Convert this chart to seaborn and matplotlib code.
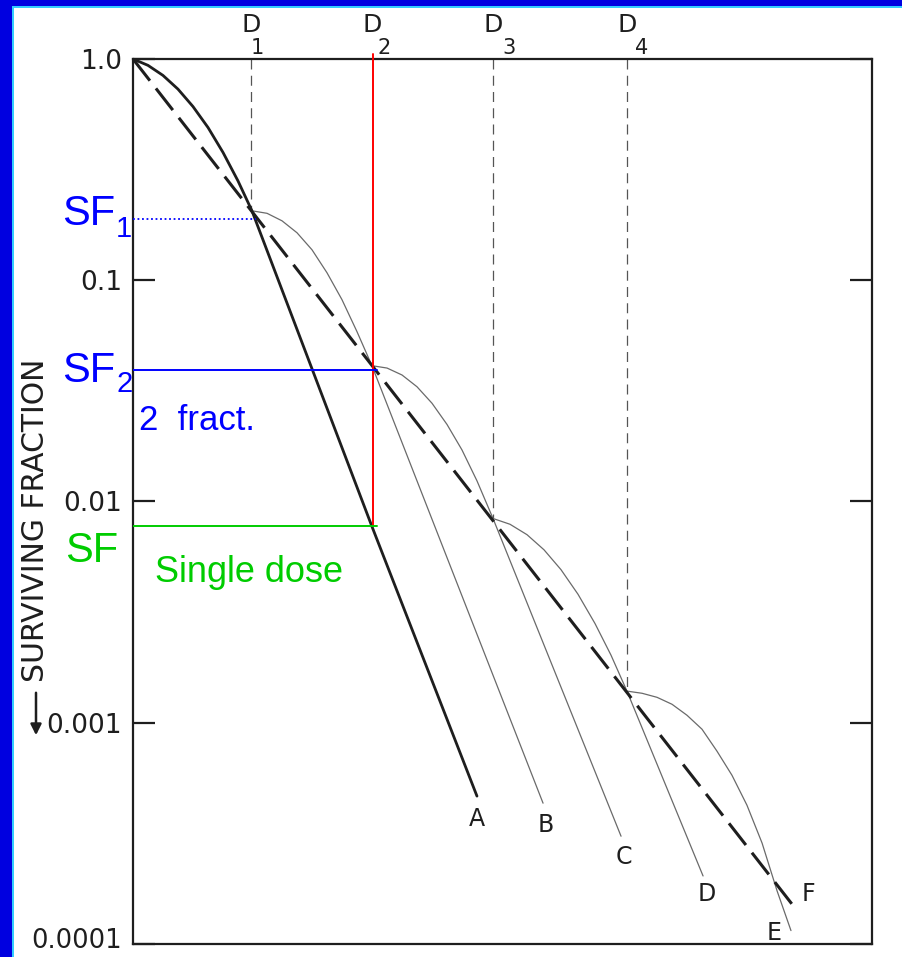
import matplotlib
matplotlib.use("Agg")
import matplotlib.pyplot as plt
from matplotlib.patches import Rectangle, FancyArrowPatch
from matplotlib.ticker import NullLocator
from matplotlib.transforms import blended_transform_factory
import seaborn as sns

# ---------------- data ----------------
fraction_doses = [1.00, 2.03, 3.05, 4.19]
fraction_labels = ["1", "2", "3", "4"]
intersection_sf = [0.206, 0.0411, 0.00838, 0.00139]

ytick_values = [1.0, 0.1, 0.01, 0.001, 0.0001]
ytick_labels = ["1.0", "0.1", "0.01", "0.001", "0.0001"]

single_dose_x = [0.0, 0.127, 0.254, 0.381, 0.508, 0.636, 0.763, 0.890, 1.008, 2.025, 2.915]
single_dose_sf = [1.0, 0.936, 0.843, 0.731, 0.610, 0.490, 0.378, 0.281, 0.206, 0.00771, 0.000466]

frac_b_x = [1.008, 1.136, 1.263, 1.390, 1.517, 1.644, 1.771, 1.898, 2.025, 3.475]
frac_b_sf = [0.206, 0.2007, 0.1856, 0.1639, 0.1373, 0.1081, 0.0817, 0.0586, 0.0411, 0.000433]

frac_c_x = [2.025, 2.153, 2.280, 2.407, 2.534, 2.661, 2.788, 2.915, 3.051, 4.136]
frac_c_sf = [0.0411, 0.0401, 0.0373, 0.0330, 0.0278, 0.0223, 0.0171, 0.0124, 0.00838, 0.000307]

frac_d_x = [3.051, 3.195, 3.339, 3.483, 3.627, 3.771, 3.915, 4.051, 4.186, 4.831]
frac_d_sf = [0.00838, 0.00789, 0.00708, 0.00605, 0.00492, 0.00381, 0.00281, 0.00202, 0.00139, 0.000203]

frac_e_x = [4.186, 4.314, 4.441, 4.568, 4.695, 4.822, 4.949, 5.076, 5.203, 5.331, 5.458, 5.576]
frac_e_sf = [0.00139, 0.001359, 0.001303, 0.001212, 0.001081, 0.000935, 0.000744,
             0.000579, 0.000424, 0.000286, 0.000174, 0.000115]

multi_frac_x = [0.0, 5.63]
multi_frac_sf = [1.0, 0.000141]

curve_names = ["A", "B", "C", "D", "E", "F"]

sf1_level = 0.19
sf2_level = 0.0394
single_sf_level = 0.00771

# ---------------- figure ----------------
sns.set_theme(style="white")
plt.rcParams["font.family"] = ["DejaVu Sans"]

W, H = 902, 957
fig = plt.figure(figsize=(W / 100, H / 100), dpi=100)
fig.patch.set_facecolor("white")

ax_l, ax_r, ax_t, ax_b = 133, 872, 59, 944
ax = fig.add_axes([ax_l / W, 1 - ax_b / H, (ax_r - ax_l) / W, (ax_b - ax_t) / H])
ax.set_facecolor("white")
ax.set_yscale("log")
ax.set_ylim(1e-4, 1.0)
ax.set_xlim(0, (ax_r - ax_l) / 118)

ink = "#1e1e1e"
thin = "#6a6a6a"

# single dose curve (A)
sns.lineplot(x=single_dose_x, y=single_dose_sf, ax=ax, color=ink, linewidth=2.0,
             sort=False, estimator=None)
# fractionated curves (B-E)
for xs, ys in [(frac_b_x, frac_b_sf), (frac_c_x, frac_c_sf),
               (frac_d_x, frac_d_sf), (frac_e_x, frac_e_sf)]:
    sns.lineplot(x=xs, y=ys, ax=ax, color=thin, linewidth=0.9, sort=False, estimator=None)
# multifraction line (F)
sns.lineplot(x=multi_frac_x, y=multi_frac_sf, ax=ax, color=ink, linewidth=2.2,
             linestyle=(0, (9, 3.2)), sort=False, estimator=None)

# vertical dashed lines at D1, D3, D4 and red line at D2
for i, (d, s) in enumerate(zip(fraction_doses, intersection_sf)):
    if i == 1:
        continue
    ax.plot([d, d], [1.0, s], color="#555555", lw=0.9, linestyle=(0, (8, 5)), zorder=1)
ax.plot([fraction_doses[1], fraction_doses[1]], [1.05, single_sf_level],
        color="#ff0000", lw=1.4, clip_on=False, zorder=4)

# coloured horizontal reference lines
ax.plot([0, fraction_doses[0] + 0.04], [sf1_level, sf1_level], color="#0000ff",
        lw=1.3, linestyle=(0, (1, 1.5)), zorder=4)
ax.plot([0, fraction_doses[1] + 0.04], [sf2_level, sf2_level], color="#0000ff",
        lw=1.4, zorder=4)
ax.plot([0, fraction_doses[1] + 0.04], [single_sf_level, single_sf_level],
        color="#00cc00", lw=1.4, zorder=4)

# curve end labels
ends = [(single_dose_x[-1], single_dose_sf[-1]), (frac_b_x[-1], frac_b_sf[-1]),
        (frac_c_x[-1], frac_c_sf[-1]), (frac_d_x[-1], frac_d_sf[-1]),
        (frac_e_x[-1], frac_e_sf[-1]), (multi_frac_x[-1], multi_frac_sf[-1])]
offsets = [(0, -16.5), (2, -16), (2, -15), (3, -13), (-12, -1.5), (8, 12)]
for name, (ex, ey), off in zip(curve_names, ends, offsets):
    ax.annotate(name, xy=(ex, ey), xytext=off, textcoords="offset points",
                ha="center", va="center", fontsize=17, color=ink)

# D labels above the axes
trans = blended_transform_factory(ax.transData, fig.transFigure)
digit_dx = [0.05, 0.10, 0.14, 0.12]
for d, lab, dx in zip(fraction_doses, fraction_labels, digit_dx):
    ax.text(d, 1 - 25 / H, "D", transform=trans, ha="center", va="center",
            fontsize=18, color=ink)
    ax.text(d + dx, 1 - 48 / H, lab, transform=trans, ha="center", va="center",
            fontsize=15, color=ink)

# axes styling
for sp in ax.spines.values():
    sp.set_visible(True)
    sp.set_color(ink)
    sp.set_linewidth(1.6)
ax.set_xticks([])
ax.set_yticks(ytick_values)
# the lowest label is drawn separately so that it stays inside the figure
ax.set_yticklabels(ytick_labels[:-1] + [""])
ax.yaxis.set_minor_locator(NullLocator())
ax.tick_params(axis="y", which="major", direction="in", length=16, width=1.6,
               left=True, right=True, labelsize=19, pad=8, colors=ink)
ax.set_xlabel("")
ax.set_ylabel("")
fig.text(122 / W, 1 - 941 / H, ytick_labels[-1], ha="right", va="center",
         fontsize=18.5, color=ink)

# y axis title with arrow
fig.text(36 / W, 1 - 520 / H, "SURVIVING FRACTION", rotation=90, ha="center",
         va="center", fontsize=21.5, color=ink)
fig.add_artist(FancyArrowPatch((36 / W, 1 - 690 / H), (36 / W, 1 - 738 / H),
                               transform=fig.transFigure, arrowstyle="-|>",
                               mutation_scale=16, color=ink, lw=1.8))

# coloured annotations
sans = ["Liberation Sans", "DejaVu Sans"]
def ftext(x, y, s, size, color):
    fig.text(x / W, 1 - y / H, s, ha="left", va="baseline", fontsize=size,
             color=color, family=sans)

ftext(62, 225, "SF", 30, "#0000ff")
ftext(116, 237, "1", 21, "#0000ff")
ftext(62, 382, "SF", 30, "#0000ff")
ftext(116, 392, "2", 21, "#0000ff")
ftext(139, 430, "2  fract.", 25, "#0000ff")
ftext(65, 562, "SF", 30, "#00cc00")
ftext(155, 582, "Single dose", 26, "#00cc00")

# blue slide frame
fig.patches.append(Rectangle((0, 0), 12 / W, 1, transform=fig.transFigure,
                             facecolor="#0000e0", edgecolor="none", zorder=0))
fig.patches.append(Rectangle((0, 1 - 6 / H), 1, 6 / H, transform=fig.transFigure,
                             facecolor="#0000e0", edgecolor="none", zorder=0))
fig.patches.append(Rectangle((12 / W, 0), 1.5 / W, 1 - 6 / H, transform=fig.transFigure,
                             facecolor="#33ccff", edgecolor="none", zorder=0))
fig.patches.append(Rectangle((12 / W, 1 - 7.5 / H), 1, 1.5 / H, transform=fig.transFigure,
                             facecolor="#33ccff", edgecolor="none", zorder=0))

fig.savefig("out.png", dpi=100, facecolor="white")
